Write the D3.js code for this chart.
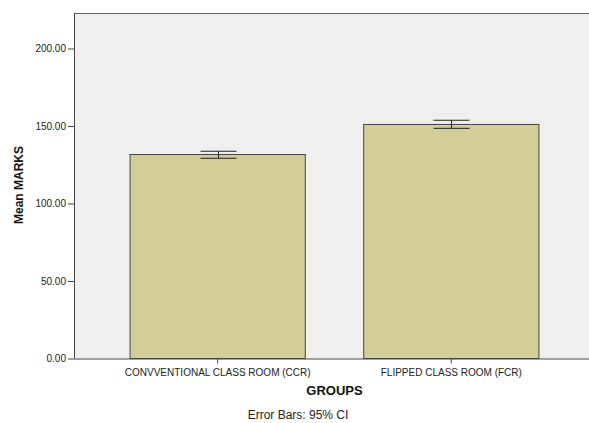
<!DOCTYPE html>
<html>
<head>
<meta charset="utf-8">
<script src="https://cdn.jsdelivr.net/npm/d3@7"></script>
<style>
  body { margin: 0; background: #fff; }
  svg { display: block; font-family: Arial, "Liberation Sans", sans-serif; }
</style>
</head>
<body>
<div id="chart"></div>
<script>
// values
const groups = ["CONVVENTIONAL CLASS ROOM (CCR)", "FLIPPED CLASS ROOM (FCR)"]
const means = [131.6, 151.0]
const ciLow = [129.2, 148.5]
const ciHigh = [133.7, 153.7]
const yTicks = [0, 50, 100, 150, 200]

const width = 589
const height = 423
const plot = {left: 74, top: 13, right: 595, bottom: 358.5}

const svg = d3.select("#chart").append("svg")
    .attr("width", width)
    .attr("height", height)

const x = d3.scaleBand()
    .domain(groups)
    .range([plot.left, plot.right])
    .paddingInner(0.25)
    .paddingOuter(0.24)

const y = d3.scaleLinear()
    .domain([0, 222.9])
    .range([plot.bottom, plot.top])

// plot background
svg.append("rect")
    .attr("x", plot.left)
    .attr("y", plot.top)
    .attr("width", width - plot.left)
    .attr("height", plot.bottom - plot.top)
    .attr("fill", "#efefef")

svg.append("line")
    .attr("x1", plot.left).attr("x2", width)
    .attr("y1", plot.top + 0.5).attr("y2", plot.top + 0.5)
    .attr("stroke", "#666").attr("stroke-width", 1.2)

// bars
svg.append("g")
    .selectAll("rect")
    .data(groups)
    .join("rect")
    .attr("x", d => x(d))
    .attr("y", (d, i) => y(means[i]))
    .attr("width", x.bandwidth())
    .attr("height", (d, i) => y(0) - y(means[i]))
    .attr("fill", "#d3ce98")
    .attr("stroke", "#444")
    .attr("stroke-width", 1)

// error bars
const capW = 36
const eb = svg.append("g")
    .attr("stroke", "#222")
    .attr("stroke-width", 1)
groups.forEach((g, i) => {
    const cx = Math.round(x(g) + x.bandwidth() / 2) + 0.5
    eb.append("line")
        .attr("x1", cx).attr("x2", cx)
        .attr("y1", y(ciHigh[i])).attr("y2", y(ciLow[i]))
    eb.append("line")
        .attr("x1", cx - capW / 2).attr("x2", cx + capW / 2)
        .attr("y1", y(ciHigh[i])).attr("y2", y(ciHigh[i]))
    eb.append("line")
        .attr("x1", cx - capW / 2).attr("x2", cx + capW / 2)
        .attr("y1", y(ciLow[i])).attr("y2", y(ciLow[i]))
})

// y axis
const yAxis = svg.append("g")
    .attr("transform", `translate(${plot.left},0)`)
    .call(d3.axisLeft(y).tickValues(yTicks).tickFormat(d3.format(".2f")).tickSize(6).tickPadding(2))
yAxis.select(".domain").attr("stroke", "#444").attr("d", `M0.5,${plot.top}V${plot.bottom}`)
yAxis.selectAll(".tick line").attr("stroke", "#444")
yAxis.selectAll("text").attr("font-size", 10).attr("fill", "#222").attr("font-family", "Arial, 'Liberation Sans', sans-serif")

// x axis
const xAxis = svg.append("g")
    .attr("transform", `translate(0,${plot.bottom})`)
    .call(d3.axisBottom(x).tickSize(5).tickPadding(5))
xAxis.select(".domain").attr("stroke", "#444").attr("d", `M${plot.left},0.5H${width}`)
xAxis.selectAll(".tick line").attr("stroke", "#444")
xAxis.selectAll("text").attr("font-size", 10).attr("fill", "#222").attr("font-family", "Arial, 'Liberation Sans', sans-serif")

// titles
svg.append("text")
    .attr("transform", "translate(23,185) rotate(-90)")
    .attr("text-anchor", "middle")
    .attr("font-size", 12)
    .attr("font-weight", "bold")
    .attr("fill", "#111")
    .text("Mean MARKS")

svg.append("text")
    .attr("x", (x(groups[0]) + x(groups[1]) + x.bandwidth()) / 2)
    .attr("y", 395)
    .attr("text-anchor", "middle")
    .attr("font-size", 13)
    .attr("font-weight", "bold")
    .attr("fill", "#111")
    .text("GROUPS")

svg.append("text")
    .attr("x", 298)
    .attr("y", 419)
    .attr("text-anchor", "middle")
    .attr("font-size", 12)
    .attr("fill", "#222")
    .text("Error Bars: 95% CI")
</script>
</body>
</html>
